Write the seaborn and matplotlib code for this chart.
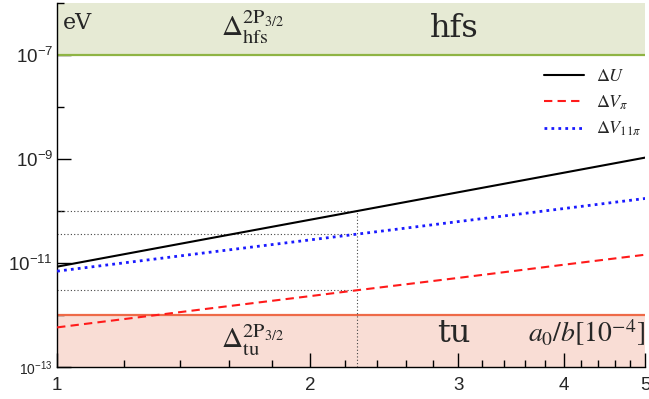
import numpy as np
import pandas as pd
import seaborn as sns
import matplotlib.pyplot as plt
from matplotlib.ticker import FixedLocator, FixedFormatter, NullFormatter

# values (log-log axes)
x_vals = [1, 1.5, 2, 2.27, 3, 4, 5]
delta_u = [8.55e-12, 2.89e-11, 6.84e-11, 1.0e-10, 2.31e-10, 5.47e-10, 1.07e-9]
delta_v_pi = [5.8e-13, 1.31e-12, 2.32e-12, 3.0e-12, 5.2e-12, 9.3e-12, 1.45e-11]
delta_v_11pi = [7.0e-12, 1.58e-11, 2.8e-11, 3.6e-11, 6.3e-11, 1.12e-10, 1.75e-10]

# dotted guide lines
guide_x = 2.27
guide_y = [1.0e-10, 3.6e-11, 3.0e-12]

# bands
hfs_band = [1e-7, 1e-6]
tu_band = [1e-13, 1e-12]

x_ticks = [1, 2, 3, 4, 5]
x_tick_labels = ['1', '2', '3', '4', '5']
y_ticks = [1e-13, 1e-11, 1e-9, 1e-7]
y_tick_labels = [r'$\mathregular{10^{-13}}$', r'$\mathregular{10^{-11}}$',
                 r'$\mathregular{10^{-9}}$', r'$\mathregular{10^{-7}}$']
y_minor = [1e-12, 1e-10, 1e-8, 1e-6]

sns.set_style('ticks')
plt.rcParams['font.family'] = ['Liberation Sans', 'DejaVu Sans']
plt.rcParams['mathtext.fontset'] = 'stix'

fig, ax = plt.subplots(figsize=(6.49, 3.99), dpi=100)
fig.subplots_adjust(left=0.088, right=0.994, bottom=0.080, top=0.992)

# shaded regions
ax.axhspan(hfs_band[0], hfs_band[1], color='#e6ead4', lw=0, zorder=0)
ax.axhline(hfs_band[0], color='#8fb444', lw=1.6, zorder=1)
ax.axhspan(tu_band[0], tu_band[1], color='#f9ddd5', lw=0, zorder=0)
ax.axhline(tu_band[1], color='#ee6a48', lw=1.6, zorder=1)

# guides
ax.hlines(guide_y, x_vals[0], guide_x, colors='#444444', linestyles=(0, (1, 2)), lw=0.8, zorder=2)
ax.vlines(guide_x, tu_band[0], guide_y[0], colors='#444444', linestyles=(0, (1, 2)), lw=0.8, zorder=2)

# curves
sns.lineplot(x=x_vals, y=delta_u, color='black', lw=1.5, label=r'$\Delta U$', ax=ax, zorder=3)
sns.lineplot(x=x_vals, y=delta_v_pi, color='#ff1a1a', lw=1.5, linestyle=(0, (4, 2.5)),
             label=r'$\Delta V_{\pi}$', ax=ax, zorder=3)
sns.lineplot(x=x_vals, y=delta_v_11pi, color='#1a1aff', lw=2, linestyle=(0, (1, 1.5)),
             label=r'$\Delta V_{11\pi}$', ax=ax, zorder=3)

ax.set_xscale('log')
ax.set_yscale('log')
ax.set_xlim(1, 5)
ax.set_ylim(1e-13, 1e-6)

ax.xaxis.set_major_locator(FixedLocator(x_ticks))
ax.xaxis.set_major_formatter(FixedFormatter(x_tick_labels))
ax.xaxis.set_minor_locator(FixedLocator([v / 10 for v in range(12, 50, 2) if v % 10 != 0]))
ax.xaxis.set_minor_formatter(NullFormatter())
ax.yaxis.set_major_locator(FixedLocator(y_ticks))
ax.yaxis.set_major_formatter(FixedFormatter(y_tick_labels))
ax.yaxis.set_minor_locator(FixedLocator(y_minor))
ax.yaxis.set_minor_formatter(NullFormatter())

ax.tick_params(which='major', direction='in', length=10, width=1, labelsize=13.5, color='black')
ax.tick_params(which='minor', direction='in', length=5, width=1, color='black')
ax.tick_params(axis='y', pad=3)
ax.tick_params(axis='x', pad=7)
ax.get_yticklabels()[0].set_fontsize(10)

for s in ['top', 'right']:
    ax.spines[s].set_visible(False)
for s in ['left', 'bottom']:
    ax.spines[s].set_linewidth(1)
    ax.spines[s].set_color('black')

ax.set_xlabel('')
ax.set_ylabel('')

# annotations
ax.text(0.010, 0.945, 'eV', transform=ax.transAxes, fontsize=16, family='DejaVu Serif',
        ha='left', va='center')
ax.text(0.675, 0.930, 'hfs', transform=ax.transAxes, fontsize=23, family='DejaVu Serif',
        ha='center', va='center')
ax.text(0.675, 0.092, 'tu', transform=ax.transAxes, fontsize=23, family='DejaVu Serif',
        ha='center', va='center')
ax.text(0.333, 0.935, r'$\Delta_{\mathrm{hfs}}^{\mathrm{2P}_{3/2}}$', transform=ax.transAxes,
        fontsize=21, ha='center', va='center')
ax.text(0.333, 0.075, r'$\Delta_{\mathrm{tu}}^{\mathrm{2P}_{3/2}}$', transform=ax.transAxes,
        fontsize=21, ha='center', va='center')
ax.text(1.0, 0.095, r'$a_0/b[10^{-4}]$', transform=ax.transAxes, fontsize=20,
        ha='right', va='center')

leg = ax.legend(loc='upper right', bbox_to_anchor=(1.022, 0.866), frameon=False, fontsize=13,
                handlelength=2.2, labelspacing=0.45, handletextpad=0.7)

fig.savefig('out.png', dpi=100)
